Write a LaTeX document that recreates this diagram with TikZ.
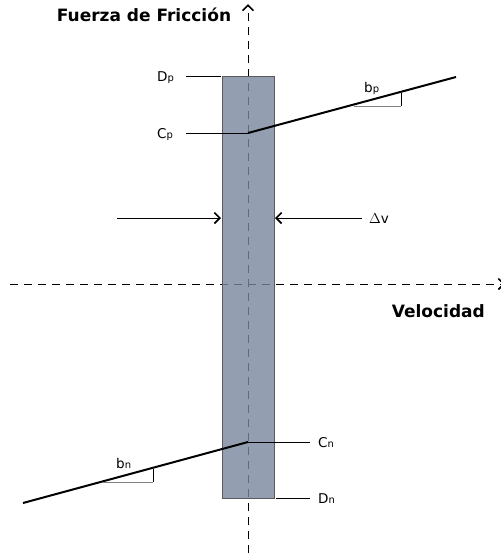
\documentclass[tikz,border=0pt]{standalone}
\usepackage{fontspec}
\setmainfont{DejaVu Sans}
\usetikzlibrary{arrows.meta}
\definecolor{barfill}{RGB}{120,135,156}
\definecolor{bardraw}{RGB}{90,90,90}
\newcommand{\lbl}[2]{#1\raisebox{-0.1ex}{\fontsize{10}{11}\selectfont #2}}
\begin{document}
\begin{tikzpicture}[x=1pt,y=-1pt,
  axis/.style={dashed,dash pattern=on 8pt off 6pt,line width=0.9pt},
  thin/.style={line width=0.9pt},
  thickline/.style={line width=2pt},
  lab/.style={font=\fontsize{13.5}{15}\selectfont,inner sep=0pt},
  bold/.style={font=\bfseries\fontsize{17}{19}\selectfont,inner sep=0pt},
  tip/.style={-{Straight Barb[length=5.5pt,width=11pt,line width=1.6pt]}}]
\useasboundingbox (0,0) rectangle (501,558);
% axes
\coordinate (yb) at (248,553);
\coordinate (yt) at (248,4);
\coordinate (xl) at (10,284);
\coordinate (xr) at (505,284);
\draw[axis,tip] (yb) -- (yt);
\draw[axis,tip] (xl) -- (xr);
% bar
\node[draw=bardraw,fill=barfill,fill opacity=0.8,line width=0.8pt,minimum width=52pt,minimum height=422pt,inner sep=0pt] (bar) at (248,287) {};
% labels
\node[bold,anchor=base] (ff) at (144,21) {Fuerza de Fricción};
\node[bold,anchor=base east] (vel) at (485,317) {Velocidad};
% Dp, Cp
\node[lab,anchor=base west] (dp) at (157,81) {\lbl{D}{p}};
\node[lab,anchor=base west] (cp) at (157,138) {\lbl{C}{p}};
\coordinate (dpa) at (186,76);
\coordinate (dpb) at (221,76);
\draw[thin] (dpa) -- (dpb);
\coordinate (cpa) at (186,133);
\coordinate (cpo) at (248,133);
\draw[thin] (cpa) -- (cpo);
% upper line
\coordinate (up) at (456,77);
\draw[thickline] (cpo) -- (up);
\coordinate (tp1) at (354,106);
\coordinate (tp2) at (401,106);
\coordinate (tp3) at (401,93);
\draw[thin,gray] (tp1) -- (tp2);
\draw[thin] (tp2) -- (tp3);
\node[lab,anchor=base west] (bp) at (364,92) {\lbl{b}{p}};
% delta v arrows
\coordinate (la) at (117,218);
\coordinate (lb) at (221,218);
\coordinate (ra) at (362,218);
\coordinate (rb) at (275,218);
\draw[thin,tip] (la) -- (lb);
\draw[thin,tip] (ra) -- (rb);
\node[lab,anchor=base west] (dv) at (369,223) {$\Delta$v};
% Cn, Dn
\coordinate (cno) at (248,442);
\coordinate (cnb) at (310,442);
\draw[thin] (cno) -- (cnb);
\node[lab,anchor=base west] (cn) at (318,447) {\lbl{C}{n}};
\coordinate (dna) at (276,498);
\coordinate (dnb) at (310,498);
\draw[thin] (dna) -- (dnb);
\node[lab,anchor=base west] (dn) at (318,503) {\lbl{D}{n}};
% lower line
\coordinate (lo) at (23,503);
\draw[thickline] (lo) -- (cno);
\coordinate (tn1) at (103,482);
\coordinate (tn2) at (153,482);
\coordinate (tn3) at (153,469);
\draw[thin,gray] (tn1) -- (tn2);
\draw[thin] (tn2) -- (tn3);
\node[lab,anchor=base west] (bn) at (116,468) {\lbl{b}{n}};
\end{tikzpicture}
\end{document}
